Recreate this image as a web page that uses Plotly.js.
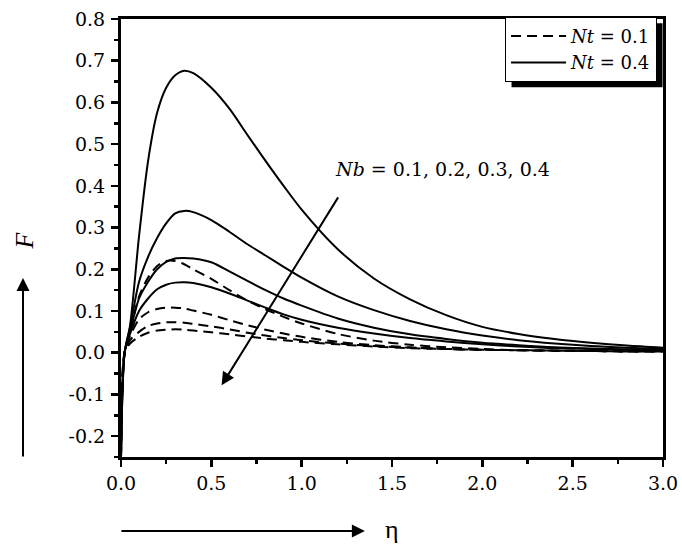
<!DOCTYPE html>
<html>
<head>
<meta charset="utf-8">
<script src="https://cdn.plot.ly/plotly-3.0.1.min.js"></script>
<style>html,body{margin:0;padding:0;background:#fff;}#chart{width:682px;height:550px;}</style>
</head>
<body>
<div id="chart"></div>
<script>
// eta grid
var eta = [0, 0.02, 0.05, 0.1, 0.15, 0.2, 0.25, 0.3, 0.35, 0.4, 0.5, 0.6, 0.7, 0.8, 0.9, 1.0, 1.2, 1.4, 1.6, 1.8, 2.0, 2.2, 2.4, 2.6, 2.8, 3.0];

// Nt = 0.4 (solid), Nb = 0.1, 0.2, 0.3, 0.4
var solidNb1 = [-0.25, 0.0, 0.065, 0.28, 0.46, 0.575, 0.635, 0.665, 0.676, 0.67, 0.635, 0.585, 0.522, 0.46, 0.4, 0.343, 0.248, 0.178, 0.128, 0.09, 0.062, 0.045, 0.033, 0.024, 0.017, 0.012];
var solidNb2 = [-0.25, 0.0, 0.06, 0.17, 0.23, 0.275, 0.31, 0.334, 0.34, 0.337, 0.318, 0.29, 0.26, 0.233, 0.206, 0.18, 0.135, 0.102, 0.076, 0.056, 0.041, 0.03, 0.022, 0.016, 0.012, 0.009];
var solidNb3 = [-0.25, 0.0, 0.05, 0.13, 0.17, 0.2, 0.218, 0.226, 0.227, 0.226, 0.217, 0.195, 0.172, 0.15, 0.13, 0.113, 0.082, 0.06, 0.044, 0.033, 0.024, 0.018, 0.013, 0.01, 0.008, 0.006];
var solidNb4 = [-0.25, 0.0, 0.045, 0.1, 0.13, 0.152, 0.163, 0.168, 0.169, 0.167, 0.157, 0.142, 0.125, 0.108, 0.092, 0.079, 0.06, 0.046, 0.035, 0.027, 0.02, 0.015, 0.011, 0.009, 0.007, 0.005];

// Nt = 0.1 (dashed), Nb = 0.1, 0.2, 0.3, 0.4
var dashNb1 = [-0.25, 0.0, 0.05, 0.135, 0.18, 0.208, 0.22, 0.22, 0.212, 0.2, 0.177, 0.15, 0.125, 0.104, 0.086, 0.07, 0.045, 0.029, 0.019, 0.013, 0.009, 0.006, 0.005, 0.004, 0.003, 0.003];
var dashNb2 = [-0.25, 0.0, 0.04, 0.08, 0.097, 0.105, 0.108, 0.108, 0.106, 0.101, 0.091, 0.078, 0.066, 0.055, 0.046, 0.038, 0.026, 0.018, 0.013, 0.009, 0.007, 0.006, 0.005, 0.004, 0.004, 0.003];
var dashNb3 = [-0.25, 0.0, 0.03, 0.05, 0.064, 0.07, 0.073, 0.073, 0.072, 0.069, 0.063, 0.056, 0.048, 0.041, 0.035, 0.03, 0.022, 0.016, 0.012, 0.009, 0.007, 0.006, 0.005, 0.004, 0.003, 0.003];
var dashNb4 = [-0.25, 0.0, 0.022, 0.038, 0.048, 0.053, 0.055, 0.056, 0.055, 0.053, 0.049, 0.044, 0.039, 0.034, 0.03, 0.026, 0.02, 0.015, 0.011, 0.009, 0.007, 0.006, 0.005, 0.004, 0.003, 0.003];

var legendLabels = ['<i>Nt</i> = 0.1', '<i>Nt</i> = 0.4'];
var nbLabel = '<i>Nb</i> = 0.1, 0.2, 0.3, 0.4';
var xTicks = [0, 0.5, 1.0, 1.5, 2.0, 2.5, 3.0];
var yTicks = [-0.2, -0.1, 0.0, 0.1, 0.2, 0.3, 0.4, 0.5, 0.6, 0.7, 0.8];

var WIDE = 'DejaVu Serif, serif';
var TIMES = 'Liberation Serif, Times New Roman, serif';

function mk(y, dashed, name, show) {
  return {
    x: eta, y: y, type: 'scatter', mode: 'lines',
    line: {color: '#000', width: 2, dash: dashed ? '10px,6px' : 'solid', shape: 'spline', smoothing: 0.8},
    name: name, showlegend: show, legendgroup: name
  };
}

var traces = [
  mk(dashNb1, true, legendLabels[0], true),
  mk(dashNb2, true, legendLabels[0], false),
  mk(dashNb3, true, legendLabels[0], false),
  mk(dashNb4, true, legendLabels[0], false),
  mk(solidNb1, false, legendLabels[1], true),
  mk(solidNb2, false, legendLabels[1], false),
  mk(solidNb3, false, legendLabels[1], false),
  mk(solidNb4, false, legendLabels[1], false)
];

var axisCommon = {
  showgrid: false, zeroline: false, showline: true, linecolor: '#000', linewidth: 3,
  mirror: true, ticks: 'outside', ticklen: 7, tickwidth: 2.5, tickcolor: '#000',
  tickfont: {family: WIDE, size: 19, color: '#000'},
  minor: {ticks: 'outside', ticklen: 4, tickwidth: 2.5, tickcolor: '#000'}
};

var layout = {
  width: 682, height: 550,
  margin: {l: 121, r: 19, t: 19, b: 93},
  paper_bgcolor: '#fff', plot_bgcolor: '#fff',
  font: {family: WIDE, color: '#000'},
  xaxis: Object.assign({}, axisCommon, {
    range: [0, 3.0], tickvals: xTicks, ticktext: xTicks.map(function(v){return v.toFixed(1);}),
    minor: Object.assign({}, axisCommon.minor, {dtick: 0.25, tick0: 0}),
    ticklabelstandoff: 0
  }),
  yaxis: Object.assign({}, axisCommon, {
    range: [-0.25, 0.8], tickvals: yTicks, ticktext: yTicks.map(function(v){return v.toFixed(1);}),
    minor: Object.assign({}, axisCommon.minor, {dtick: 0.05, tick0: 0}),
    ticklabelstandoff: 2
  }),
  showlegend: true,
  legend: {
    x: 0.989, y: 1.005, xanchor: 'right', yanchor: 'top',
    bgcolor: '#fff', bordercolor: '#000', borderwidth: 1,
    font: {family: WIDE, size: 18, color: '#000'},
    tracegroupgap: 0, itemwidth: 55
  },
  shapes: [],
  annotations: [
    {xref: 'x', yref: 'y', axref: 'x', ayref: 'y', x: 0.557, y: -0.078, ax: 1.207, ay: 0.376,
     text: '', showarrow: true, arrowhead: 2, arrowsize: 1.3, arrowwidth: 2, arrowcolor: '#000'},
    {xref: 'x', yref: 'y', x: 1.78, y: 0.44, text: nbLabel, showarrow: false,
     font: {family: WIDE, size: 19, color: '#000'}},
    {xref: 'paper', yref: 'paper', x: 0.450, y: -0.169, ax: -245, ay: 0,
     text: '', showarrow: true, arrowhead: 2, arrowsize: 1.3, arrowwidth: 2, arrowcolor: '#000'},
    {xref: 'paper', yref: 'paper', x: -0.1808, y: 0.4087, ax: 0, ay: 180,
     text: '', showarrow: true, arrowhead: 2, arrowsize: 1.3, arrowwidth: 2, arrowcolor: '#000'},
    {xref: 'paper', yref: 'paper', x: 0.5, y: -0.204, text: 'η', showarrow: false,
     font: {family: TIMES, size: 26, color: '#000'}},
    {xref: 'paper', yref: 'paper', x: -0.2085, y: 0.4954, text: '<i>F</i>', showarrow: false, textangle: -90,
     font: {family: TIMES, size: 26, color: '#000'}}
  ]
};

var gd = document.getElementById('chart');
Plotly.newPlot(gd, traces, layout, {displayModeBar: false, staticPlot: true}).then(function() {
  var bg = gd.querySelector('.legend .bg');
  if (!bg) return;
  var r = bg.getBoundingClientRect();
  var g = gd.getBoundingClientRect();
  var s = gd._fullLayout._size;
  var off = 6;
  var px0 = r.left - g.left + off, px1 = r.right - g.left + off;
  var py0 = r.top - g.top + off, py1 = r.bottom - g.top + off;
  var shadow = {
    type: 'rect', xref: 'paper', yref: 'paper',
    x0: (px0 - s.l) / s.w, x1: (px1 - s.l) / s.w,
    y0: 1 - (py1 - s.t) / s.h, y1: 1 - (py0 - s.t) / s.h,
    fillcolor: '#000', line: {width: 0}, layer: 'above'
  };
  return Plotly.relayout(gd, {shapes: [shadow]});
});
</script>
</body>
</html>
